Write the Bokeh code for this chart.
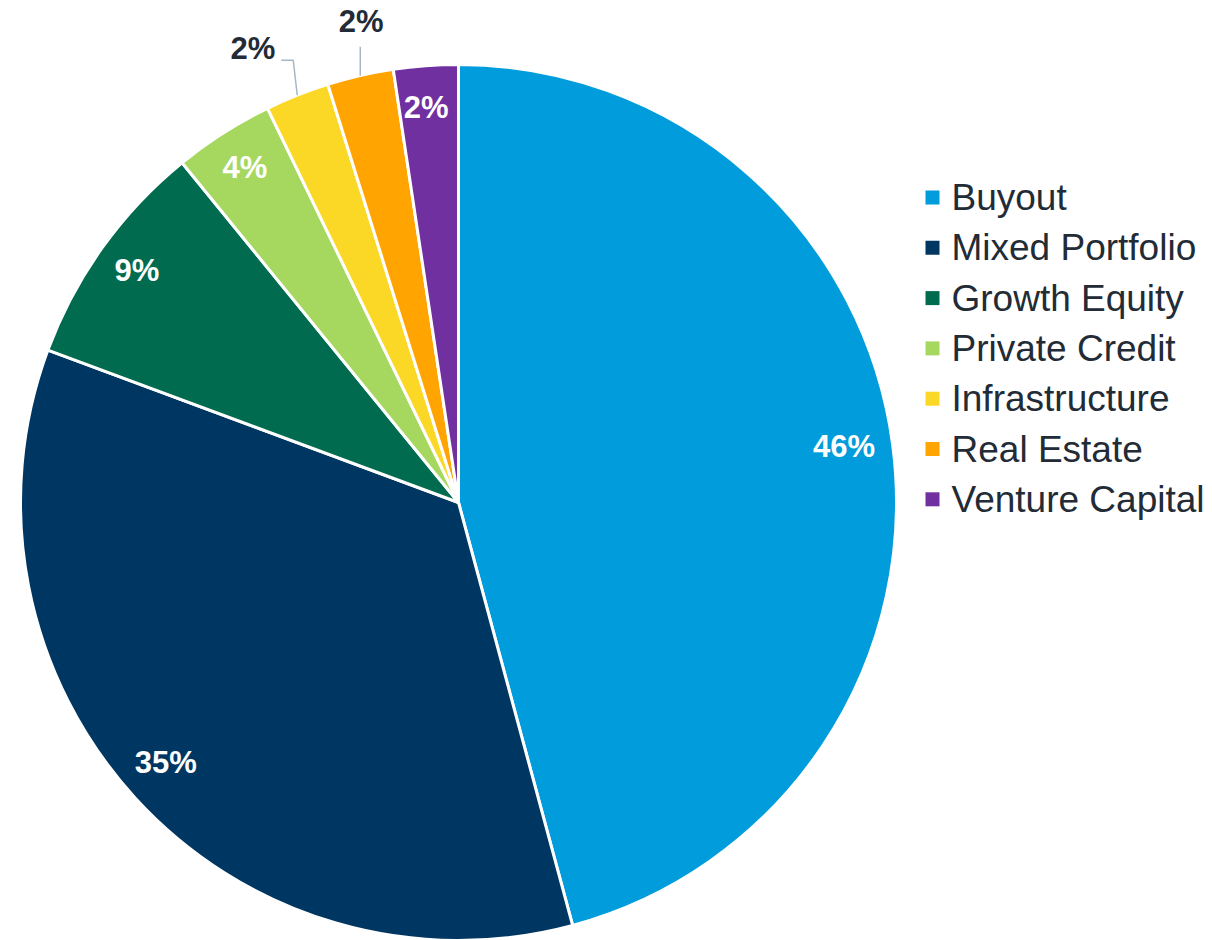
import math
from bokeh.plotting import figure
from bokeh.models import Range1d, ColumnDataSource
from bokeh.core.properties import value
from bokeh.embed import file_html
from bokeh.resources import INLINE

categories = ["Buyout", "Mixed Portfolio", "Growth Equity", "Private Credit",
              "Infrastructure", "Real Estate", "Venture Capital"]
shares = [45.8, 34.85, 8.47, 3.69, 2.36, 2.44, 2.38]
labels = ["46%", "35%", "9%", "4%", "2%", "2%", "2%"]
colors = ["#009cdc", "#003662", "#006b4f", "#a6d75f", "#fcd826", "#ffa400", "#7030a0"]
outside = [False, False, False, False, True, True, False]

W, H = 1210, 940
p = figure(width=W, height=H, output_backend="svg", toolbar_location=None,
           x_range=Range1d(0, W), y_range=Range1d(0, H), min_border=0,
           outline_line_color=None, background_fill_color="white",
           border_fill_color="white")
p.axis.visible = False
p.grid.visible = False

cx, cy, R = 458, H - 502, 438
total = sum(shares)
starts, ends, mids = [], [], []
c = 0.0
for s in shares:
    c0 = c
    c1 = c + s / total
    starts.append(math.pi / 2 - 2 * math.pi * c0)
    ends.append(math.pi / 2 - 2 * math.pi * c1)
    mids.append(math.pi / 2 - 2 * math.pi * (c0 + c1) / 2)
    c = c1

src = ColumnDataSource(dict(start=starts, end=ends, color=colors, cat=categories))
p.wedge(x=cx, y=cy, radius=R, start_angle="start", end_angle="end",
        direction="clock", fill_color="color", line_color="white",
        line_width=3, source=src)

font = value("Liberation Sans")

# inside labels
ix, iy, it = [], [], []
for m, lab, out in zip(mids, labels, outside):
    if not out:
        r = 0.895 * R
        ix.append(cx + r * math.cos(m) - 3)
        iy.append(cy + r * math.sin(m) + 4)
        it.append(lab)
p.text(x=ix, y=iy, text=it, text_font=font, text_font_size="31px",
       text_font_style="bold", text_color="white", text_align="center",
       text_baseline="middle")

# outside labels with leader lines
leader_color = "#a7b6c6"
dark = "#222b36"
out_idx = [i for i, o in enumerate(outside) if o]
for k, i in enumerate(out_idx):
    m = mids[i]
    x0 = cx + R * math.cos(m)
    y0 = cy + R * math.sin(m)
    if k == 0:
        ytop = y0 + 35
        p.line(x=[x0, x0 - 4, x0 - 16], y=[y0, ytop, ytop],
               line_color=leader_color, line_width=1.5)
        p.text(x=[x0 - 22], y=[ytop + 12], text=[labels[i]], text_font=font,
               text_font_size="31px", text_font_style="bold", text_color=dark,
               text_align="right", text_baseline="middle")
    else:
        ytop = y0 + 29
        p.line(x=[x0, x0], y=[y0, ytop], line_color=leader_color, line_width=1.5)
        p.text(x=[x0 + 1], y=[ytop + 25], text=[labels[i]], text_font=font,
               text_font_size="31px", text_font_style="bold", text_color=dark,
               text_align="center", text_baseline="middle")

# legend
lx, ly0, step = 932, H - 197, 50.3
ys = [ly0 - i * step for i in range(len(categories))]
p.scatter(x=[lx] * len(categories), y=ys, marker="square", size=14,
          fill_color=colors, line_color=None)
p.text(x=[lx + 19] * len(categories), y=ys, text=categories, text_font=font,
       text_font_size="37px", text_color=dark, text_align="left",
       text_baseline="middle")

open("out.html", "w").write(file_html(p, INLINE))
